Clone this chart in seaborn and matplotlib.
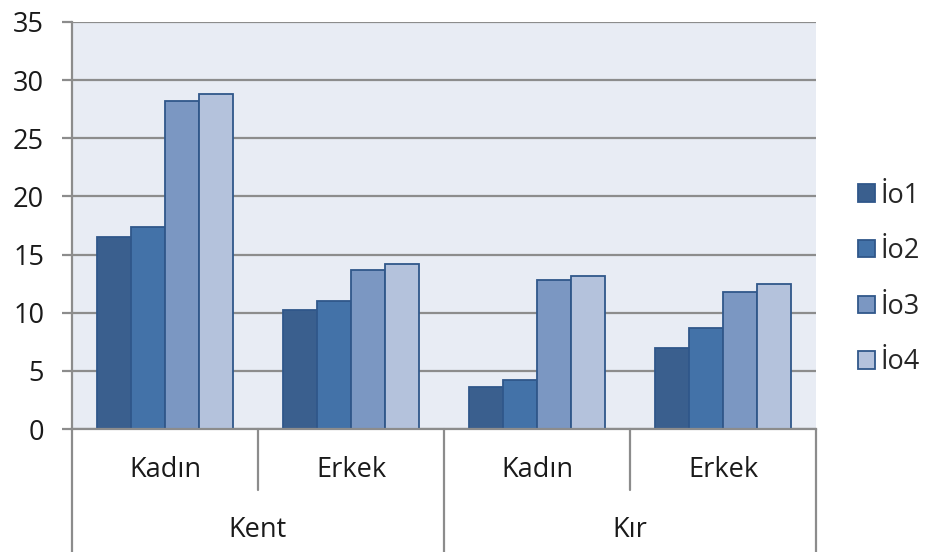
import numpy as np
import pandas as pd
import matplotlib
matplotlib.use("Agg")
import matplotlib.pyplot as plt
import seaborn as sns

# === Data ===
places = ["Kent", "Kent", "Kır", "Kır"]
genders = ["Kadın", "Erkek", "Kadın", "Erkek"]
series = ["İo1", "İo2", "İo3", "İo4"]
io1 = [16.5, 10.2, 3.6, 7.0]
io2 = [17.4, 11.0, 4.2, 8.7]
io3 = [28.2, 13.7, 12.8, 11.8]
io4 = [28.8, 14.2, 13.2, 12.5]
colors = ["#3A5F8E", "#4372A8", "#7B97C2", "#B4C2DC"]

groups = [f"{p}-{g}" for p, g in zip(places, genders)]
rows = []
for name, vals in zip(series, [io1, io2, io3, io4]):
    for grp, v in zip(groups, vals):
        rows.append({"group": grp, "series": name, "value": v})
df = pd.DataFrame(rows)

sns.set_style("white")
plt.rcParams["font.family"] = ["Open Sans", "DejaVu Sans"]
FS = 19.5

fig = plt.figure(figsize=(9.29, 5.52), dpi=100)
ax = fig.add_axes([72 / 929, 1 - 429 / 552, (816 - 72) / 929, (429 - 22) / 552])
ax.set_facecolor("#E8ECF4")

sns.barplot(data=df, x="group", y="value", hue="series", order=groups,
            hue_order=series, palette=colors, width=0.73, ax=ax,
            edgecolor="#30578A", linewidth=1.3, saturation=1, legend=True)

ax.set_ylim(0, 35)
ax.set_xlim(-0.5, 3.5)
ax.set_yticks(range(0, 36, 5))
ax.yaxis.grid(True, color="#8C8C8C", linewidth=1.6)
ax.set_axisbelow(True)
ax.set_xlabel("")
ax.set_ylabel("")
ax.set_xticks([])
for s in ["top", "right"]:
    ax.spines[s].set_visible(False)
for s in ["left", "bottom"]:
    ax.spines[s].set_color("#8C8C8C")
    ax.spines[s].set_linewidth(1.6)
ax.tick_params(axis="y", left=True, length=7, width=1.6, color="#8C8C8C",
               labelsize=FS, labelcolor="#1A1A1A", pad=13)

# multi-level category axis
tr = ax.get_xaxis_transform()
bottom = (429 - 552) / 407
mid = (429 - 490) / 407
for xb in [-0.5, 1.5, 3.5]:
    ax.plot([xb, xb], [0, bottom], transform=tr, color="#8C8C8C",
            linewidth=1.6, clip_on=False)
for xb in [0.5, 2.5]:
    ax.plot([xb, xb], [0, mid], transform=tr, color="#8C8C8C",
            linewidth=1.6, clip_on=False)
for i, g in enumerate(genders):
    ax.text(i, (429 - 470) / 407, g, transform=tr, ha="center", va="center",
            fontsize=FS, color="#1A1A1A")
for i, p in enumerate(["Kent", "Kır"]):
    ax.text(2 * i + 0.5, (429 - 530) / 407, p, transform=tr, ha="center",
            va="center", fontsize=FS, color="#1A1A1A")

leg = ax.legend(loc="center left", bbox_to_anchor=(858 / 929, 273 / 552),
                bbox_transform=fig.transFigure, frameon=False, fontsize=FS,
                handlelength=0.62, handleheight=0.62, handletextpad=0.2,
                labelspacing=1.02, borderpad=0, borderaxespad=0)

fig.savefig("out.png", dpi=100)
